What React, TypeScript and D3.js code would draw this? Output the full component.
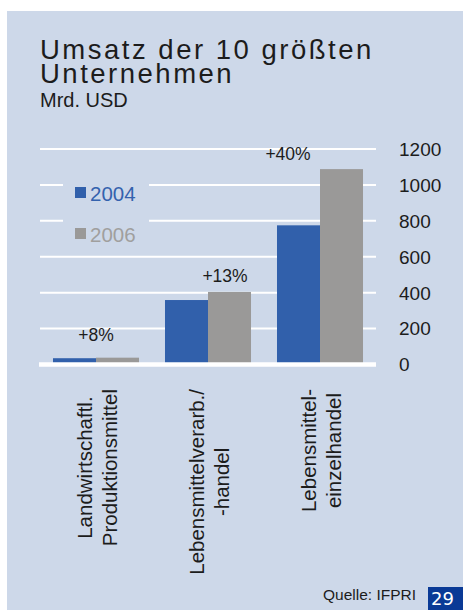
import React, { useEffect, useRef } from "react";
import * as d3 from "d3";

const categories = [
  ["Landwirtschaftl.", "Produktionsmittel"],
  ["Lebensmittelverarb./", "-handel"],
  ["Lebensmittel-", "einzelhandel"],
];
const seriesNames = ["2004", "2006"];
const values2004 = [35, 359, 775];
const values2006 = [38, 404, 1088];
const changeLabels = ["+8%", "+13%", "+40%"];
const yTicks = [0, 200, 400, 600, 800, 1000, 1200];

const W = 463;
const H = 610;
const BG = "#cdd8e9";
const BLUE = "#3160ab";
const GREY = "#9a9998";
const INK = "#1c1c1c";
const SANS = "'Liberation Sans', Arial, sans-serif";

export default function App() {
  const ref = useRef<SVGSVGElement | null>(null);

  useEffect(() => {
    const svg = d3.select(ref.current);
    svg.selectAll("*").remove();

    // background panel
    svg.append("rect").attr("x", 0).attr("y", 0).attr("width", W).attr("height", H).attr("fill", "#ffffff");
    svg.append("rect").attr("x", 7).attr("y", 11).attr("width", W - 7).attr("height", H - 11).attr("fill", BG);

    // title
    const title = svg.append("text").attr("font-family", SANS).attr("fill", INK)
      .attr("font-size", 27.5).attr("letter-spacing", 2.5);
    title.append("tspan").attr("x", 40).attr("y", 59).text("Umsatz der 10 größten");
    title.append("tspan").attr("x", 40).attr("y", 83).text("Unternehmen");
    svg.append("text").attr("x", 40).attr("y", 107).attr("font-family", SANS).attr("font-size", 20)
      .attr("fill", INK).text("Mrd. USD");

    const left = 40, right = 376;
    const y = d3.scaleLinear().domain([0, 1200]).range([364.5, 149]);
    const x0 = d3.scaleBand<number>().domain(d3.range(categories.length))
      .range([left, right]).paddingInner(0.232).paddingOuter(0.116);
    const x1 = d3.scaleBand<string>().domain(seriesNames).range([0, x0.bandwidth()]);

    // gridlines
    const grid = svg.append("g");
    grid.selectAll("line").data(yTicks.filter((t) => t > 0)).join("line")
      .attr("x1", left).attr("x2", right)
      .attr("y1", (d) => y(d)).attr("y2", (d) => y(d))
      .attr("stroke", "#ffffff").attr("stroke-width", 2);

    // legend background gap
    svg.append("rect").attr("x", 63).attr("y", 178).attr("width", 86).attr("height", 50).attr("fill", BG);

    // bars
    const data = categories.map((c, i) => [values2004[i], values2006[i]]);
    const colors = [BLUE, GREY];
    const gBars = svg.append("g");
    data.forEach((vals, i) => {
      vals.forEach((v, j) => {
        gBars.append("rect")
          .attr("x", (x0(i) as number) + (x1(seriesNames[j]) as number))
          .attr("y", y(v))
          .attr("width", x1.bandwidth())
          .attr("height", y(0) - y(v))
          .attr("fill", colors[j]);
      });
    });

    // baseline
    svg.append("line").attr("x1", left - 1).attr("x2", right)
      .attr("y1", y(0)).attr("y2", y(0)).attr("stroke", "#ffffff").attr("stroke-width", 4.5);

    // y tick labels on right
    svg.append("g").selectAll("text").data(yTicks).join("text")
      .attr("x", 399).attr("y", (d) => y(d)).attr("dy", "0.36em")
      .attr("font-family", SANS).attr("font-size", 19).attr("fill", INK)
      .text((d) => String(d));

    // change labels
    const labelPos = [
      { dx: 0, dy: -17 },
      { dx: 17, dy: -10 },
      { dx: -32, dy: -9 },
    ];
    changeLabels.forEach((t, i) => {
      const cx = (x0(i) as number) + x0.bandwidth() / 2 + labelPos[i].dx;
      const top = y(Math.max(values2004[i], values2006[i]));
      svg.append("text").attr("x", cx).attr("y", top + labelPos[i].dy)
        .attr("text-anchor", "middle").attr("font-family", SANS).attr("font-size", 17.5)
        .attr("fill", INK).text(t);
    });

    // legend
    seriesNames.forEach((s, j) => {
      const ly = 187 + j * 41;
      svg.append("rect").attr("x", 75).attr("y", ly).attr("width", 11).attr("height", 11).attr("fill", colors[j]);
      svg.append("text").attr("x", 90).attr("y", ly + 14).attr("font-family", SANS).attr("font-size", 20.5)
        .attr("fill", j === 0 ? "#3462ae" : "#a09f9e").text(s);
    });

    // category labels (rotated)
    categories.forEach((lines, i) => {
      const cx = (x0(i) as number) + x0.bandwidth() / 2 + 1.5;
      const g = svg.append("g");
      const texts = lines.map((ln, k) =>
        g.append("text").attr("font-family", SANS).attr("font-size", 20.5).attr("fill", INK)
          .attr("text-anchor", "middle")
          .attr("y", (k - (lines.length - 1) / 2) * 25).attr("dy", "0.35em").text(ln)
      );
      const maxW = d3.max(texts, (t) => (t.node() as SVGTextElement).getComputedTextLength()) || 0;
      texts.forEach((t) => t.attr("x", -maxW / 2));
      g.attr("transform", `translate(${cx},${389}) rotate(-90)`);
    });

    // source
    svg.append("text").attr("x", 323).attr("y", 600).attr("font-family", SANS).attr("font-size", 15.5)
      .attr("fill", INK).text("Quelle: IFPRI");
    svg.append("rect").attr("x", 428).attr("y", 587).attr("width", 35).attr("height", 23).attr("fill", "#0a3a96");
    svg.append("text").attr("x", 431).attr("y", 605).attr("font-family", "'DejaVu Sans', sans-serif")
      .attr("font-size", 18).attr("fill", "#ffffff").text("29");
  }, []);

  return (
    <svg ref={ref} width={W} height={H} style={{ position: "absolute", left: 0, top: 0, display: "block" }} />
  );
}
